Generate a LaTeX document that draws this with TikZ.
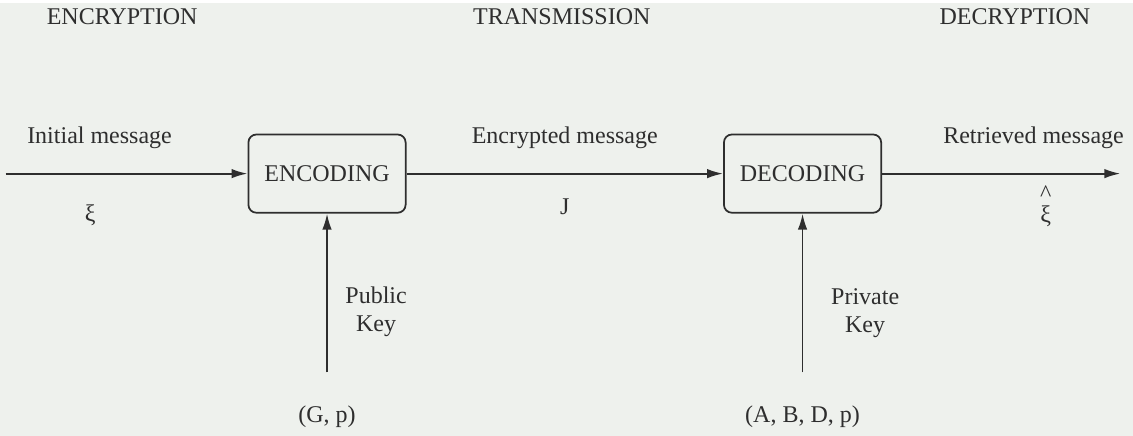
\documentclass[tikz,border=0pt]{standalone}
\usepackage{fontspec}
\setmainfont{Liberation Serif}
\usepackage{xcolor}
\usepackage{tikz}
\usetikzlibrary{arrows.meta,positioning}

\definecolor{paper}{HTML}{EEF1ED}
\definecolor{ink}{HTML}{2E2E2E}

\begin{document}
\begin{tikzpicture}[
  font=\fontsize{9.6}{11.5}\selectfont,
  every node/.style={text=ink},
  box/.style={rectangle,draw=ink,line width=0.7pt,rounded corners=3.2pt,align=center,minimum width=22.1mm,minimum height=11mm},
  arr/.style={-{Latex[length=6.4pt,width=3.8pt]},draw=ink,line width=0.75pt}
]
\fill[paper] (-45.97mm,-36.83mm) rectangle (113.3mm,24.04mm);

\node[box] (enc) {ENCODING};
\node[box,right=44.5mm of enc] (dec) {DECODING};
\coordinate[left=34mm of enc] (src);
\coordinate[right=33.5mm of dec] (sink);
\coordinate[below=22.3mm of enc] (pubin);
\coordinate[below=22.3mm of dec] (privin);

% headers
\node (hencr) at (-28.8mm,22.1mm) {ENCRYPTION};
\node (htrans) at (33.0mm,22.1mm) {TRANSMISSION};
\node (hdecr) at (96.7mm,22.1mm) {DECRYPTION};

% messages
\node (imsg) at ([xshift=13.2mm,yshift=5mm]src) {Initial message};
\node (xi) at ([xshift=11.9mm,yshift=-5.8mm]src) {ξ};
\node (rmsg) at ([xshift=-12.2mm,yshift=5mm]sink) {Retrieved message};
\node[align=center] (xihat) at ([xshift=-10.5mm,yshift=-4.6mm]sink) {\^{}\\[-3pt]ξ};

% keys
\node[align=center] (pubkey) at ([xshift=6.9mm,yshift=8.5mm]pubin) {Public\\Key};
\node[align=center] (privkey) at ([xshift=8.8mm,yshift=8.3mm]privin) {Private\\Key};
\node (gp) at ([yshift=-6.2mm]pubin) {(G, p)};
\node (abdp) at ([yshift=-6.2mm]privin) {(A, B, D, p)};

\draw[arr] (src) -- (enc);
\draw[arr] (enc) -- node[yshift=5mm] (emsg) {Encrypted message} node[yshift=-4.6mm] (jsym) {J} (dec);
\draw[arr] (dec) -- (sink);
\draw[arr] (pubin) -- (enc);
\draw[arr] (privin) -- (dec);
\end{tikzpicture}
\end{document}
